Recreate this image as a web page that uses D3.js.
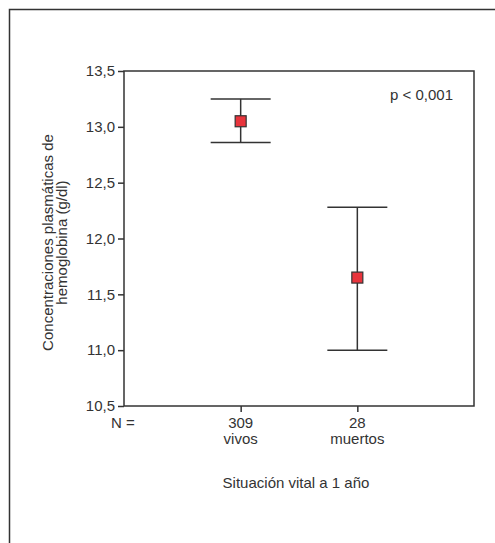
<!DOCTYPE html>
<html>
<head>
<meta charset="utf-8">
<script src="https://cdn.jsdelivr.net/npm/d3@7"></script>
<style>
  body { margin: 0; background: #fff; }
  text { font-family: "Liberation Sans Narrow", "Arial Narrow", "Liberation Sans", sans-serif; fill: #333; }
</style>
</head>
<body>
<svg id="chart" width="495" height="543"></svg>
<script>
// data
var groups = ["vivos", "muertos"];
var counts = [309, 28];
var means = [13.05, 11.65];
var upper = [13.25, 12.28];
var lower = [12.86, 11.0];
var yTicks = [10.5, 11.0, 11.5, 12.0, 12.5, 13.0, 13.5];

var svg = d3.select("#chart");
var ink = "#333";
var fs = 15;

// outer frame (only top and left visible)
svg.append("path").attr("d", "M9.5,543V9.5H495").attr("fill", "none").attr("stroke", ink).attr("stroke-width", 1.5);

var pl = 124, pr = 474, pt = 71, pb = 406;

var y = d3.scaleLinear().domain([10.5, 13.5]).range([pb, pt]);
var x = d3.scalePoint().domain(["", "vivos", "muertos", " "]).range([pl, pr]);

var fmt = function (d) { return d3.format(".1f")(d).replace(".", ","); };

// plot box
svg.append("rect").attr("x", pl).attr("y", pt).attr("width", pr - pl).attr("height", pb - pt)
   .attr("fill", "none").attr("stroke", ink).attr("stroke-width", 1.5);

// y axis
var yAxis = svg.append("g").attr("transform", "translate(" + pl + ",0)")
   .call(d3.axisLeft(y).tickValues(yTicks).tickFormat(fmt).tickSize(6).tickPadding(3));
yAxis.attr("font-family", null).attr("font-size", null);
yAxis.select(".domain").remove();
yAxis.selectAll("line").attr("stroke", ink).attr("stroke-width", 1.5);
yAxis.selectAll("text").attr("font-size", fs).attr("fill", ink);

// x axis ticks
var xAxis = svg.append("g").attr("transform", "translate(0," + pb + ")")
   .call(d3.axisBottom(x).tickValues(groups).tickSize(6).tickFormat(""));
xAxis.select(".domain").remove();
xAxis.selectAll("line").attr("stroke", ink).attr("stroke-width", 1.5);

svg.append("text").attr("x", pl - 1).attr("y", 428).attr("text-anchor", "middle").attr("font-size", fs).text("N =");

var lab = svg.selectAll(".xlab").data(groups).enter().append("text")
   .attr("class", "xlab").attr("text-anchor", "middle").attr("font-size", fs)
   .attr("x", function (d) { return x(d); }).attr("y", 428);
lab.append("tspan").attr("x", function (d) { return x(d); }).text(function (d, i) { return counts[i]; });
lab.append("tspan").attr("x", function (d) { return x(d); }).attr("dy", 16).text(function (d) { return d; });

// x title
svg.append("text").attr("x", (pl + pr) / 2 - 3).attr("y", 488).attr("text-anchor", "middle")
   .attr("font-size", fs).text("Situación vital a 1 año");

// y title
var yt = svg.append("text").attr("transform", "translate(53," + ((pt + pb) / 2 + 4) + ") rotate(-90)")
   .attr("text-anchor", "middle").attr("font-size", fs);
yt.append("tspan").attr("x", 0).attr("y", 0).text("Concentraciones plasmáticas de");
yt.append("tspan").attr("x", 0).attr("dy", 14).text("hemoglobina (g/dl)");

// p value
svg.append("text").attr("x", 453).attr("y", 100).attr("text-anchor", "end").attr("font-size", fs).text("p < 0,001");

// error bars
var capW = 60;
var bars = svg.selectAll(".err").data(groups).enter().append("g").attr("class", "err")
   .attr("stroke", ink).attr("stroke-width", 1.5);
bars.append("line").attr("x1", function (d) { return x(d); }).attr("x2", function (d) { return x(d); })
   .attr("y1", function (d, i) { return y(upper[i]); }).attr("y2", function (d, i) { return y(lower[i]); });
bars.append("line").attr("x1", function (d) { return x(d) - capW / 2; }).attr("x2", function (d) { return x(d) + capW / 2; })
   .attr("y1", function (d, i) { return y(upper[i]); }).attr("y2", function (d, i) { return y(upper[i]); });
bars.append("line").attr("x1", function (d) { return x(d) - capW / 2; }).attr("x2", function (d) { return x(d) + capW / 2; })
   .attr("y1", function (d, i) { return y(lower[i]); }).attr("y2", function (d, i) { return y(lower[i]); });

// mean markers
var sq = 11;
svg.selectAll(".mean").data(groups).enter().append("rect").attr("class", "mean")
   .attr("x", function (d) { return x(d) - sq / 2; })
   .attr("y", function (d, i) { return y(means[i]) - sq / 2; })
   .attr("width", sq).attr("height", sq)
   .attr("fill", "#e8343c").attr("stroke", ink).attr("stroke-width", 1.2);
</script>
</body>
</html>
